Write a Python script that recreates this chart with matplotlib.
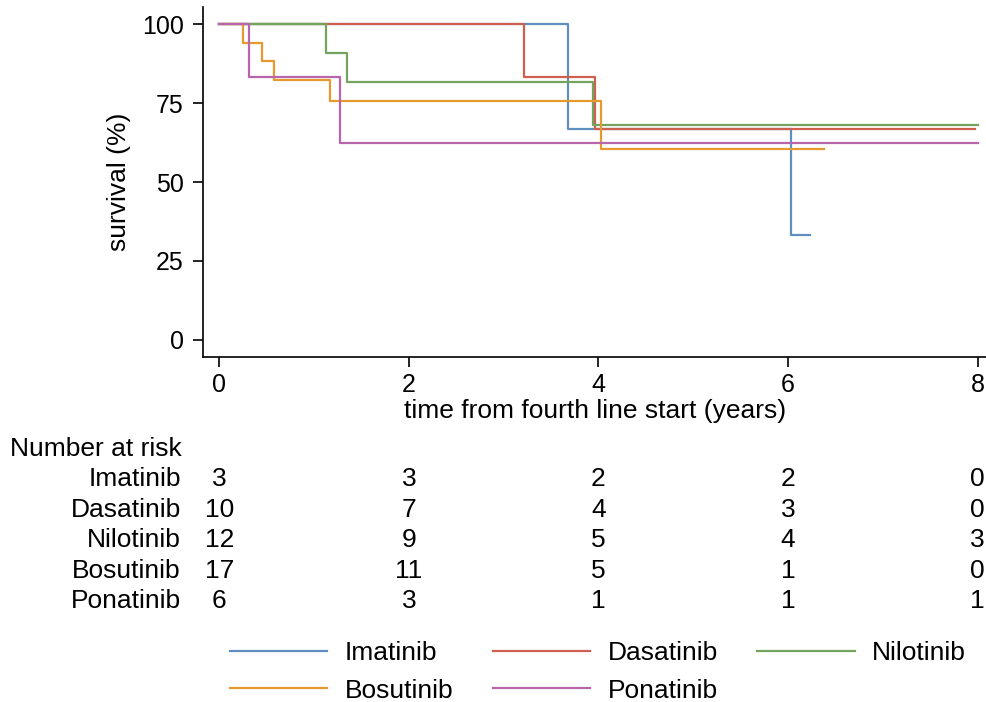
import matplotlib
matplotlib.use("Agg")
import matplotlib.pyplot as plt
import matplotlib.transforms as mtransforms

plt.rcParams['font.family'] = ['Liberation Sans', 'DejaVu Sans']

# ---- data ----
drugs = ["Imatinib", "Dasatinib", "Nilotinib", "Bosutinib", "Ponatinib"]
colors = ["#5E8FBE", "#CF5F4F", "#74A35E", "#E69A2E", "#B866AB"]

imatinib_t = [0, 3.68, 6.03, 6.23]
imatinib_s = [100, 66.7, 33.3, 33.3]
dasatinib_t = [0, 3.21, 3.96, 7.97]
dasatinib_s = [100, 83.3, 66.7, 66.7]
nilotinib_t = [0, 1.13, 1.35, 3.94, 8.0]
nilotinib_s = [100, 90.9, 81.8, 68.2, 68.2]
bosutinib_t = [0, 0.25, 0.45, 0.58, 1.17, 4.03, 6.38]
bosutinib_s = [100, 94.1, 88.2, 82.4, 75.7, 60.5, 60.5]
ponatinib_t = [0, 0.31, 1.27, 8.0]
ponatinib_s = [100, 83.3, 62.5, 62.5]

series_t = [imatinib_t, dasatinib_t, nilotinib_t, bosutinib_t, ponatinib_t]
series_s = [imatinib_s, dasatinib_s, nilotinib_s, bosutinib_s, ponatinib_s]

risk_times = [0, 2, 4, 6, 8]
risk_imatinib = [3, 3, 2, 2, 0]
risk_dasatinib = [10, 7, 4, 3, 0]
risk_nilotinib = [12, 9, 5, 4, 3]
risk_bosutinib = [17, 11, 5, 1, 0]
risk_ponatinib = [6, 3, 1, 1, 1]
risk_rows = [risk_imatinib, risk_dasatinib, risk_nilotinib, risk_bosutinib, risk_ponatinib]

xticks = [0, 2, 4, 6, 8]
yticks = [0, 25, 50, 75, 100]

FS = 19
TFS = 18
W, H = 987, 702
fig = plt.figure(figsize=(W / 100, H / 100), dpi=100)
ax = fig.add_axes([202.7 / W, 1 - 356.7 / H, 1 - 202.7 / W, (356.7 - 7.3) / H])

lines = {}
for name, c, t, s in zip(drugs, colors, series_t, series_s):
    ln, = ax.step(t, s, where="post", color=c, lw=1.6, label=name)
    lines[name] = ln

ax.set_xlim(-0.175, 8.10)
ax.set_ylim(-5.3, 105.3)
ax.set_xticks(xticks)
ax.set_yticks(yticks)
ax.tick_params(axis="both", labelsize=TFS, length=7.5, width=1.2, direction="out", color="black")
ax.tick_params(axis="y", pad=6)
ax.tick_params(axis="x", pad=4)
for sp in ["top", "right"]:
    ax.spines[sp].set_visible(False)
for sp in ["left", "bottom"]:
    ax.spines[sp].set_linewidth(1.2)

ax.set_xlabel("time from fourth line start (years)", fontsize=FS, labelpad=2)
ax.set_ylabel("survival (%)", fontsize=FS, labelpad=8)

# ---- risk table ----
trans = mtransforms.blended_transform_factory(ax.transData, fig.transFigure)
fig.text(10 / W, 1 - 449 / H, "Number at risk", fontsize=FS, ha="left", va="center")
row_y = [479, 510, 540, 571, 601]
for name, vals, yy in zip(drugs, risk_rows, row_y):
    fig.text(181 / W, 1 - yy / H, name, fontsize=FS, ha="right", va="center")
    for tx, v in zip(risk_times, vals):
        ax.text(tx, 1 - yy / H, str(v), transform=trans, fontsize=FS,
                ha="center", va="center", clip_on=False)

# ---- legend (row-major order) ----
order = ["Imatinib", "Bosutinib", "Dasatinib", "Ponatinib", "Nilotinib"]
fig.legend([lines[n] for n in order], order, ncol=3, frameon=False,
           fontsize=FS, handlelength=3.7, handletextpad=0.65, columnspacing=1.5,
           labelspacing=0.5, loc="center", bbox_to_anchor=(598 / W, 1 - 672 / H))

fig.savefig("out.png", dpi=100)
